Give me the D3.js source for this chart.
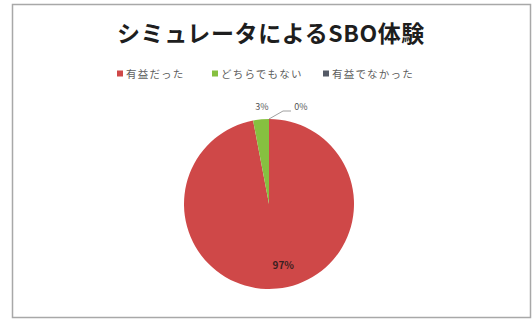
<!DOCTYPE html>
<html>
<head>
<meta charset="utf-8">
<script src="https://cdn.jsdelivr.net/npm/d3@7/dist/d3.min.js"></script>
<style>
  html, body { margin: 0; padding: 0; background: #ffffff; }
  svg { display: block; font-family: "Noto Sans CJK JP", "Noto Sans", sans-serif; }
</style>
</head>
<body>
<svg id="chart" width="532" height="320"></svg>
<script>
// Survey answers: was the SBO experience on the simulator useful?
const categories = ["有益だった", "どちらでもない", "有益でなかった"];
const shares = [97, 3, 0];
const colors = ["#cf4848", "#86c040", "#555a66"];
const title = "シミュレータによるSBO体験";

const W = 532, H = 320;
const svg = d3.select("#chart");

// chart area frame
svg.append("rect")
  .attr("x", 12.5).attr("y", 4.5)
  .attr("width", W - 14).attr("height", H - 7)
  .attr("fill", "#ffffff")
  .attr("stroke", "#a8a8a8").attr("stroke-width", 1.5);

// title
svg.append("text")
  .attr("x", 271).attr("y", 42)
  .attr("text-anchor", "middle")
  .attr("font-size", 23).attr("font-weight", "bold")
  .attr("letter-spacing", 0.6)
  .attr("fill", "#1e1e1e")
  .text(title);

// legend
const legendX = d3.scaleOrdinal().domain(categories).range([117, 212, 323]);
const legend = svg.append("g").selectAll("g")
  .data(categories).join("g")
  .attr("transform", d => `translate(${legendX(d)},74)`);
legend.append("rect")
  .attr("x", 0).attr("y", -3.5).attr("width", 6).attr("height", 6)
  .attr("fill", (d, i) => colors[i]);
legend.append("text")
  .attr("x", 9).attr("y", 3.5)
  .attr("font-size", 10.5).attr("letter-spacing", 1.2).attr("fill", "#606060")
  .text(d => d);

// pie
const cx = 269, cy = 204, r = 85;
const pie = d3.pie().sort(null).value(d => d.v);
const data = categories.map((c, i) => ({ c, v: shares[i], i }));
const arcs = pie(data);
const arc = d3.arc().innerRadius(0).outerRadius(r);

const g = svg.append("g").attr("transform", `translate(${cx},${cy})`);
g.selectAll("path")
  .data(arcs.filter(a => a.data.v > 0)).join("path")
  .attr("d", arc)
  .attr("fill", d => colors[d.data.i]);

// data labels
const fmt = v => v + "%";
const big = arcs[0];
const bigPos = d3.arc().innerRadius(r * 0.78).outerRadius(r * 0.78).centroid(big);
g.append("text")
  .attr("x", bigPos[0] + 8).attr("y", bigPos[1] - 4)
  .attr("text-anchor", "middle").attr("dominant-baseline", "middle")
  .attr("font-size", 10).attr("font-weight", "bold").attr("fill", "#3a2020")
  .text(fmt(big.data.v));

// small slices labelled outside the pie
const outer = d3.arc().innerRadius(r).outerRadius(r);
const green = arcs[1];
const gp = outer.centroid(green);
g.append("text")
  .attr("x", gp[0] + 1).attr("y", -r - 9)
  .attr("text-anchor", "middle")
  .attr("font-size", 9).attr("fill", "#555")
  .text(fmt(green.data.v));

const zero = arcs[2];
const zp = outer.centroid(zero);
const zLabel = [zp[0] + 32, -r - 11];
g.append("path")
  .attr("d", d3.line()([[zp[0], zp[1]], [zp[0] + 14, zLabel[1] + 3], [zLabel[0] - 10, zLabel[1] + 3]]))
  .attr("fill", "none").attr("stroke", "#888").attr("stroke-width", 0.8);
g.append("text")
  .attr("x", zLabel[0]).attr("y", zLabel[1] + 2)
  .attr("text-anchor", "middle")
  .attr("font-size", 9).attr("fill", "#555")
  .text(fmt(zero.data.v));
</script>
</body>
</html>
